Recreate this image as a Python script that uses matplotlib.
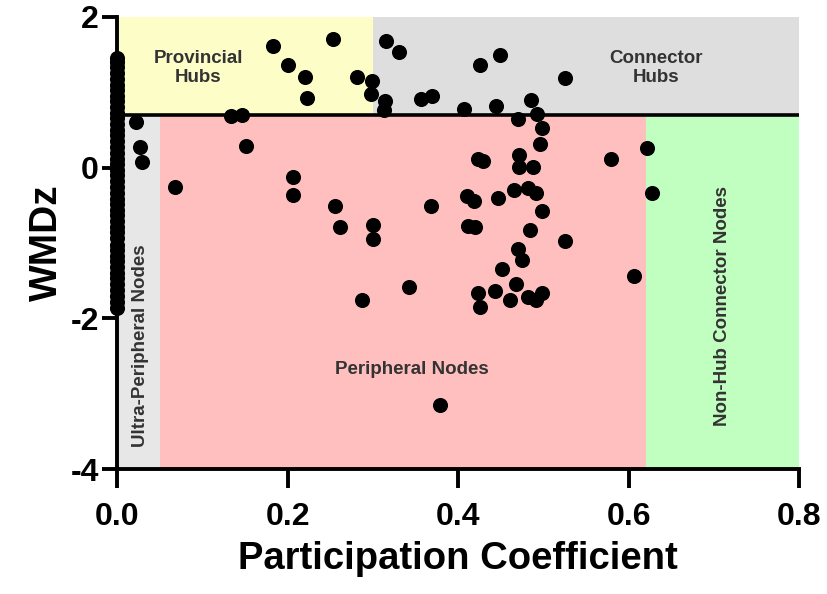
import matplotlib
matplotlib.use("Agg")
import matplotlib.pyplot as plt
from matplotlib.patches import Rectangle

plt.rcParams['font.family'] = ['Liberation Sans', 'DejaVu Sans']

# Nodes with participation coefficient 0 (ultra-peripheral column)
zero_pc_wmdz = [1.46, 1.40, 1.33, 1.25, 1.18, 1.10, 1.03, 0.95, 0.88, 0.80, 0.73,
                0.66, 0.58, 0.50, 0.43, 0.35, 0.28, 0.20, 0.12, 0.05, -0.03,
                -0.10, -0.18, -0.26, -0.33, -0.41, -0.48, -0.56, -0.63, -0.71,
                -0.79, -0.86, -0.94, -1.02, -1.09, -1.17, -1.24, -1.32, -1.40,
                -1.47, -1.55, -1.62, -1.70, -1.78, -1.86]

# Other nodes: participation coefficient and within-module degree z-score
pc = [0.022, 0.027, 0.029, 0.068,
      0.183, 0.201, 0.220, 0.223, 0.253, 0.282, 0.299, 0.298,
      0.315, 0.331, 0.314, 0.313,
      0.134, 0.147, 0.151,
      0.356, 0.370, 0.407, 0.426, 0.449, 0.444, 0.486, 0.525,
      0.470, 0.493, 0.498, 0.496,
      0.206, 0.206, 0.256, 0.262, 0.300, 0.300, 0.287,
      0.423, 0.429, 0.471, 0.471, 0.488,
      0.410, 0.419, 0.447, 0.466, 0.482, 0.492, 0.368, 0.499,
      0.412, 0.420, 0.485, 0.470, 0.475, 0.452, 0.342, 0.468,
      0.423, 0.443, 0.461, 0.482, 0.491, 0.498, 0.426,
      0.525, 0.580, 0.622, 0.628, 0.606, 0.379]
wmdz = [0.61, 0.28, 0.08, -0.26,
        1.62, 1.36, 1.21, 0.93, 1.71, 1.21, 1.15, 0.98,
        1.68, 1.53, 0.88, 0.77,
        0.69, 0.70, 0.29,
        0.91, 0.95, 0.78, 1.36, 1.50, 0.82, 0.90, 1.19,
        0.64, 0.71, 0.53, 0.32,
        -0.12, -0.36, -0.51, -0.79, -0.76, -0.95, -1.75,
        0.11, 0.09, 0.17, 0.01, 0.01,
        -0.38, -0.44, -0.40, -0.29, -0.27, -0.34, -0.51, -0.57,
        -0.77, -0.79, -0.83, -1.08, -1.23, -1.35, -1.58, -1.54,
        -1.67, -1.64, -1.75, -1.72, -1.75, -1.67, -1.85,
        -0.98, 0.12, 0.26, -0.33, -1.44, -3.15]

hub_threshold = 0.7
x_ticks = [0.0, 0.2, 0.4, 0.6, 0.8]
x_tick_labels = ["0.0", "0.2", "0.4", "0.6", "0.8"]
y_ticks = [-4, -2, 0, 2]
y_tick_labels = ["-4", "-2", "0", "2"]

fig = plt.figure(figsize=(8.27, 5.94), dpi=100)
ax = fig.add_axes([0.1415, 0.2104, 0.8247, 0.761])
ax.set_xlim(0, 0.8)
ax.set_ylim(-4, 2)

# Role regions
regions = [
    (0.0, hub_threshold, 0.3, 2 - hub_threshold, '#FDFDC8'),
    (0.3, hub_threshold, 0.5, 2 - hub_threshold, '#DEDEDE'),
    (0.0, -4, 0.05, hub_threshold + 4, '#E7E7E7'),
    (0.05, -4, 0.57, hub_threshold + 4, '#FFBFBF'),
    (0.62, -4, 0.18, hub_threshold + 4, '#C1FFC1'),
]
for x0, y0, w, h, c in regions:
    ax.add_patch(Rectangle((x0, y0), w, h, facecolor=c, edgecolor='none', zorder=0))

ax.plot([0, 0.8], [hub_threshold, hub_threshold], color='black', lw=2.6, zorder=2,
        solid_capstyle='butt')

ax.scatter([0.0] * len(zero_pc_wmdz), zero_pc_wmdz, s=118, color='black', zorder=4,
           clip_on=False, linewidths=0)
ax.scatter(pc, wmdz, s=118, color='black', zorder=4, clip_on=False, linewidths=0)

txt = dict(fontsize=13.5, fontweight='bold', color='#333333', ha='center', va='center', zorder=3)
ax.text(0.095, 1.32, "Provincial\nHubs", linespacing=1.15, **txt)
ax.text(0.632, 1.32, "Connector\nHubs", linespacing=1.15, **txt)
ax.text(0.346, -2.68, "Peripheral Nodes", **txt)
ax.text(0.027, -2.36, "Ultra-Peripheral Nodes", rotation=90, **txt)
ax.text(0.71, -1.83, "Non-Hub Connector Nodes", rotation=90, **txt)

for s in ['top', 'right']:
    ax.spines[s].set_visible(False)
for s in ['left', 'bottom']:
    ax.spines[s].set_linewidth(2.8)
    ax.spines[s].set_zorder(3)

ax.set_xticks(x_ticks)
ax.set_xticklabels(x_tick_labels)
ax.set_yticks(y_ticks)
ax.set_yticklabels(y_tick_labels)
ax.tick_params(axis='x', length=14, width=2.8, labelsize=23, pad=10)
ax.tick_params(axis='y', length=11, width=2.8, labelsize=23, pad=2)
for lab in ax.get_xticklabels() + ax.get_yticklabels():
    lab.set_fontweight('bold')

ax.set_xlabel("Participation Coefficient", fontsize=27.5, fontweight='bold', labelpad=6)
ax.set_ylabel("WMDz", fontsize=28, fontweight='bold', labelpad=4)

fig.savefig("out.png", dpi=100)
